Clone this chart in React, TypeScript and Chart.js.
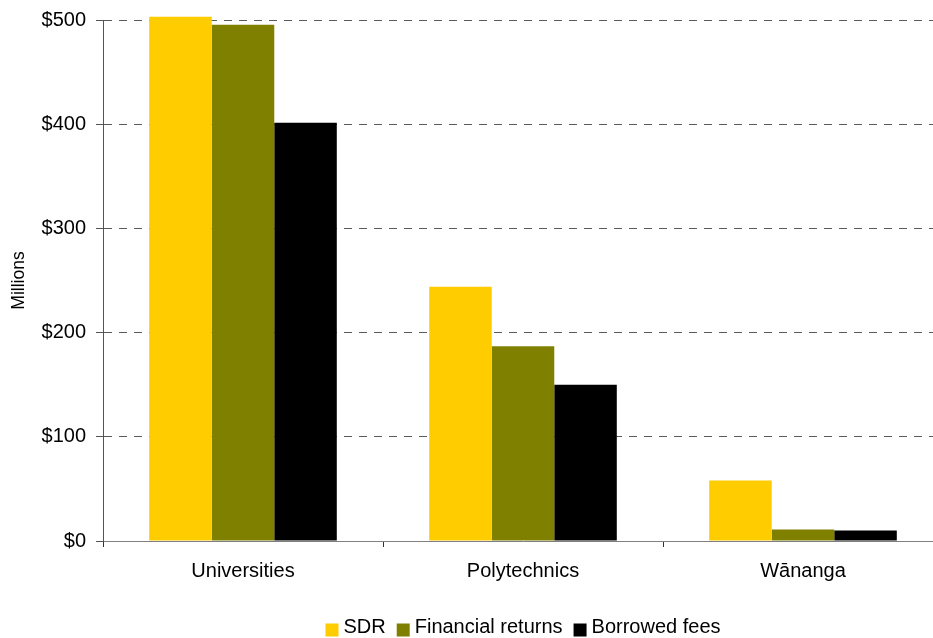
import React, { useEffect, useRef } from "react";
import { Chart, registerables } from "chart.js";

Chart.register(...registerables);

const categories = ["Universities", "Polytechnics", "Wānanga"];
const sdr = [503, 244, 58];
const financialReturns = [495.5, 187, 11];
const borrowedFees = [401.5, 150, 10];
const yTicks = [0, 100, 200, 300, 400, 500];

const FONT = "'Liberation Sans', Arial, sans-serif";

const legendPlugin = {
  id: "customLegend",
  afterDraw(chart: any) {
    const { ctx, chartArea } = chart;
    const items = chart.data.datasets.map((d: any) => ({ text: d.label, color: d.backgroundColor }));
    ctx.save();
    ctx.font = `20px ${FONT}`;
    const box = 13;
    const gap = 5;
    const itemGap = 11;
    const widths = items.map((it: any) => box + gap + ctx.measureText(it.text).width);
    const total = widths.reduce((a: number, b: number) => a + b, 0) + itemGap * (items.length - 1);
    let x = (chartArea.left + chartArea.right) / 2 - total / 2;
    const boxTop = 623.5;
    const textY = 627;
    items.forEach((it: any, i: number) => {
      ctx.fillStyle = it.color;
      ctx.fillRect(x, boxTop, box, box);
      ctx.fillStyle = "#000";
      ctx.textBaseline = "middle";
      ctx.textAlign = "left";
      ctx.fillText(it.text, x + box + gap, textY);
      x += widths[i] + itemGap;
    });
    ctx.restore();
  },
};

const borderLinePlugin = {
  id: "solidYBorder",
  afterDraw(chart: any) {
    const { ctx, chartArea } = chart;
    ctx.save();
    ctx.strokeStyle = "#555";
    ctx.lineWidth = 1;
    ctx.setLineDash([]);
    ctx.beginPath();
    ctx.moveTo(chartArea.left + 0.5, chartArea.top);
    ctx.lineTo(chartArea.left + 0.5, chartArea.bottom);
    ctx.stroke();
    ctx.restore();
  },
};

export default function App() {
  const ref = useRef<HTMLCanvasElement | null>(null);
  useEffect(() => {
    if (!ref.current) return;
    const chart = new Chart(ref.current, {
      type: "bar",
      data: {
        labels: categories,
        datasets: [
          { label: "SDR", data: sdr, backgroundColor: "#FFCC00", clip: false as any },
          { label: "Financial returns", data: financialReturns, backgroundColor: "#808000", clip: false as any },
          { label: "Borrowed fees", data: borrowedFees, backgroundColor: "#000000", clip: false as any },
        ],
      },
      options: {
        animation: false,
        responsive: false,
        maintainAspectRatio: false,
        layout: { padding: { left: 0, right: 17, top: 20, bottom: 43 } },
        datasets: { bar: { barPercentage: 1, categoryPercentage: 0.67 } },
        plugins: { legend: { display: false }, tooltip: { enabled: false } },
        scales: {
          x: {
            grid: { drawOnChartArea: false, drawTicks: true, tickLength: 6, tickColor: "#333" },
            border: { color: "#808080", width: 1 },
            ticks: { color: "#000", font: { family: FONT, size: 20 }, padding: 12, maxRotation: 0 },
          },
          y: {
            min: 0,
            max: 500,
            afterBuildTicks: (axis: any) => {
              axis.ticks = yTicks.map((v) => ({ value: v }));
            },
            afterFit: (axis: any) => {
              axis.width = 103;
            },
            grid: {
              color: (c: any) => (c.tick && c.tick.value === 0 ? "rgba(0,0,0,0)" : "#5a5a5a"),
              tickColor: "#555",
              tickLength: 7,
              tickBorderDash: [],
            } as any,
            border: { color: "#555", width: 1, dash: [8, 7] },
            ticks: {
              color: "#000",
              font: { family: FONT, size: 20, lineHeight: 1 },
              padding: 10,
              callback: (v: any) => "$" + v,
            },
            title: {
              display: true,
              text: "Millions",
              color: "#000",
              font: { family: FONT, size: 17.5 },
              padding: { top: 9, bottom: 0 },
            },
          },
        },
      },
      plugins: [legendPlugin, borderLinePlugin],
    });
    return () => chart.destroy();
  }, []);
  return (
    <div style={{ position: "fixed", left: 0, top: 0, width: 960, height: 638, background: "#fff" }}>
      <canvas ref={ref} width={960} height={638} style={{ width: 960, height: 638 }} />
    </div>
  );
}
